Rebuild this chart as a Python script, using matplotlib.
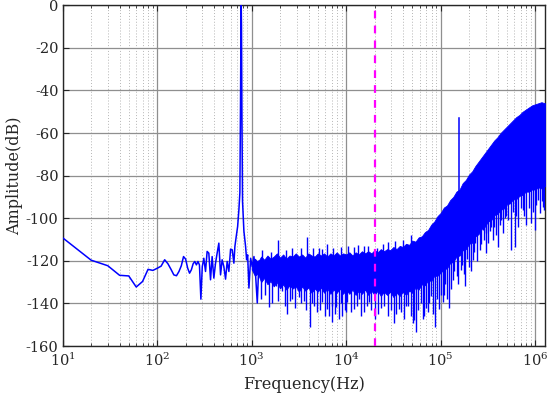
import numpy as np
import matplotlib
matplotlib.use("Agg")
import matplotlib.pyplot as plt
from matplotlib.ticker import LogLocator, LogFormatterMathtext, NullFormatter

# ---------------- data ----------------
# sparse low-frequency part of the spectrum incl. the signal tone
line_freq = [10, 20, 30, 40, 50, 60, 70, 80, 90, 100, 110, 120, 130, 140, 150, 160,
             170, 180, 190, 200, 210, 220, 230, 240, 250, 260, 270, 280, 290, 300,
             311.5, 324.7, 337.6, 351.9, 366.8, 381.4, 397.6, 414.4, 430.9, 449.2,
             468.2, 486.9, 507.5, 529, 550.2, 573.5, 598, 622, 648, 664, 686, 710,
             732, 750, 762, 770, 775, 780, 788, 800, 827, 862, 884, 906, 935, 975,
             1014, 1057, 1102, 1146, 1194, 1245]
line_db = [-109.2, -119.7, -122.3, -126.8, -127.1, -132.3, -129.7, -124, -124.5, -123.5,
           -122.5, -119.5, -121.4, -124, -126.6, -127, -125, -122.3, -118, -119.2,
           -123.4, -125.8, -124.2, -121.4, -120.3, -121.9, -120.3, -121.9, -138, -122.7,
           -118.8, -125, -115.6, -116.4, -128.9, -118, -128.1, -121.1, -116.4, -111.7,
           -126.6, -119.5, -122.7, -128.6, -120.3, -125, -114.5, -114.8, -121.1, -113.3,
           -108.6, -103.9, -96.1, -88, -45, -10, 0, -10, -50, -92, -106, -113.3,
           -119.5, -117.2, -132.8, -118.8, -122.7, -118, -127.3, -139.8, -120, -128]

# dense noise band: sampled positions, upper edge and lower edge of the solid core
band_freq = [1000, 1080, 1166, 1259, 1359, 1468, 1585, 1711, 1848, 1995,
             2154, 2326, 2512, 2712, 2929, 3162, 3415, 3687, 3981, 4299,
             4642, 5012, 5412, 5843, 6310, 6813, 7356, 7943, 8577, 9261,
             10000, 10800, 11660, 12590, 13590, 14680, 15850, 17110, 18480, 19950,
             21540, 23260, 25120, 27120, 29290, 31620, 34150, 36870, 39810, 42990,
             46420, 50120, 54120, 58430, 63100, 68130, 73560, 79430, 85770, 92610,
             100000, 108000, 116600, 125900, 135900, 146800, 158500, 171100, 184800, 199500,
             215400, 232600, 251200, 271200, 292900, 316200, 341500, 368700, 398100, 429900,
             464200, 501200, 541200, 584300, 631000, 681300, 735600, 794300, 857700, 926100,
             1000000, 1080000, 1166000, 1259000, 1280000]
band_top = [-121, -119, -120.5, -118, -119.5, -117.5, -119, -118, -116.5, -118.5,
            -117, -119, -117.5, -118, -116.5, -118, -117, -118.5, -116.5, -117.5,
            -118, -116.5, -117.5, -116.5, -118, -116.5, -117.5, -116, -117.5, -116.5,
            -117, -116, -117.5, -116, -117, -115.5, -116.5, -115.5, -116.5, -115,
            -116, -114.5, -115.5, -114.5, -115, -113.5, -114.5, -113, -113.5, -112,
            -112.5, -110.5, -111, -109, -108.5, -106.5, -105.5, -103, -101.5, -99,
            -97.5, -95, -94, -91.5, -90, -87.5, -86.5, -83.5, -82, -79.5,
            -78, -75.5, -73.5, -71.5, -69.5, -67.5, -65.5, -63.5, -62, -60,
            -58.5, -57, -55.5, -54, -52.5, -51.5, -50, -49, -48, -47,
            -46.5, -46, -45.5, -46, -46]
band_bot = [-124, -127, -126, -130, -128, -131, -129.5, -132, -130, -133,
            -131, -133.5, -131.5, -133, -132, -134.5, -132, -134, -132.5, -135,
            -133, -134.5, -132.5, -135, -133, -135.5, -133.5, -135, -133, -135.5,
            -133.5, -135.5, -133.5, -136, -134, -135.5, -133.5, -136, -134, -136,
            -134, -136.5, -134.5, -136, -134.5, -137, -135, -136.5, -134.5, -136,
            -134, -135, -132.5, -133.5, -131, -131.5, -129, -129.5, -127, -127,
            -125.5, -124, -123.5, -121, -120.5, -118, -117.5, -115, -114.5, -112,
            -111.5, -108.5, -107.5, -105, -104, -101.5, -101, -98.5, -98, -96,
            -95.5, -93.5, -93, -91, -91, -89.5, -89, -87.5, -87.5, -86.5,
            -86.5, -85.5, -86, -85, -85]

# downward noise spikes below the band
spike_freq = [1245, 1390, 1524, 1650, 1795, 1900, 2109, 2250, 2384, 2550, 2692, 2850,
              3171, 3350, 3581, 3800, 4150, 4350, 4571, 4956, 5300, 5605, 5900, 6339,
              6600, 7000, 7157, 7600, 7893, 8426, 8800, 9141, 9600, 10070, 10322,
              11200, 12160, 12900, 13733, 14500, 15520, 16500, 17535, 18500, 20160,
              21500, 23340, 25000, 27420, 29500, 32280, 34000, 36500, 38040, 41210,
              42960, 45000, 48550, 51000, 52670, 54900, 58000, 62020, 64530, 67000,
              70060, 72930, 76000, 79170, 82000, 87340, 91000, 96970, 100000, 105100,
              109600, 112000, 118000, 123800, 128000, 134300, 140000, 148000, 152000,
              164800, 170000, 176000, 183100, 192000, 201800, 208000, 218800, 226000,
              233600, 245000, 262100, 270000, 279300, 290000, 298400, 305000, 315600,
              330000, 343100, 356600, 370000, 385000, 403000, 420000, 437700, 455000,
              475000, 494600, 520000, 558500, 580000, 606000, 630000, 656900, 700000,
              742300, 770000, 805400, 860000, 911200, 950000, 987900, 1030000,
              1071000, 1116000, 1180000, 1211000, 1250000]
spike_db = [-138, -136, -141.9, -140, -131.7, -139, -134, -141, -145, -139, -138, -142,
            -137.2, -140, -138.8, -143, -151.3, -140, -141, -144.2, -143, -139.5, -146,
            -142.7, -145.8, -141, -148.9, -145, -141.9, -147.3, -140, -145.8, -143,
            -144.2, -139.5, -144, -142.7, -141, -138, -146, -144.2, -141, -139.5, -143,
            -147.3, -145, -142, -141, -145.8, -143, -149, -145, -142.7, -143.8, -147.3,
            -141.4, -141, -145.8, -149, -147.7, -153.6, -143, -139.8, -147.3, -146,
            -142.2, -144.2, -140, -136.7, -145, -151.3, -138, -142.7, -136, -139.5,
            -135.9, -131, -138, -142.2, -133, -128.9, -125, -127.3, -131,
            -124.2, -122, -126, -132, -119, -122.7, -125, -119.5, -116,
            -111.6, -120, -114.8, -112, -105.3, -110, -116.4, -107, -111.7,
            -106, -104, -110, -104, -108, -113.3, -103, -101, -107,
            -100, -99, -101, -114.7, -97, -113.3, -99, -104, -95,
            -96, -99, -103.2, -95, -102.2, -97, -105.3, -94,
            -91.3, -97.7, -92, -94.6, -96]

# upward spikes on top of the band
up_freq = [1300, 1600, 1899, 2300, 2654, 3300, 3886, 4500, 5170, 5600, 6339, 7300,
           8900, 10500, 12000, 13500, 15520, 17000, 21330, 24500, 28000, 33000, 40000,
           48000]
up_db = [-115, -116, -110, -115, -114, -114, -109, -114, -114, -114.5, -112, -114,
         -113.5, -113, -113.5, -112.5, -113, -113, -114, -112, -111, -110.5, -110,
         -108]

# isolated spur
spur_freq = 158000
spur_db = -53

# signal band edge
band_edge = 20000

x_ticks = [1e1, 1e2, 1e3, 1e4, 1e5, 1e6]
y_ticks = [0, -20, -40, -60, -80, -100, -120, -140, -160]

# ---------------- plot ----------------
plt.rcParams["font.family"] = ["DejaVu Serif"]
plt.rcParams["mathtext.fontset"] = "dejavuserif"
plt.rcParams["axes.unicode_minus"] = False

BLUE = "#0000ff"
fig = plt.figure(figsize=(5.5, 3.98), dpi=100)
ax = fig.add_axes([62.7 / 550, 1 - 346 / 398, 482.6 / 550, 340.7 / 398])
ax.set_xscale("log")
ax.set_xlim(10, 1.28e6)
ax.set_ylim(-160, 0)

lb = np.log10(band_freq)
ax.fill_between(band_freq, band_bot, band_top, color=BLUE, lw=0.6, zorder=3)
sp_top = np.interp(np.log10(spike_freq), lb, band_bot) + 1.0
ax.vlines(spike_freq, spike_db, sp_top, color=BLUE, lw=1.0, zorder=3)
up_base = np.interp(np.log10(up_freq), lb, band_top) - 1.0
ax.vlines(up_freq, up_base, up_db, color=BLUE, lw=1.0, zorder=3)
ax.plot([spur_freq, spur_freq], [np.interp(np.log10(spur_freq), lb, band_top) - 2, spur_db],
        color=BLUE, lw=1.1, zorder=3)
ax.plot(line_freq, line_db, color=BLUE, lw=1.1, zorder=3)
ax.axvline(band_edge, color="#ff00ff", lw=1.6, ls=(0, (3.5, 3.2)), zorder=5)

ax.set_xticks(x_ticks)
ax.xaxis.set_major_formatter(LogFormatterMathtext())
ax.xaxis.set_minor_locator(LogLocator(base=10, subs=np.arange(2, 10), numticks=20))
ax.xaxis.set_minor_formatter(NullFormatter())
ax.set_yticks(y_ticks)
ax.set_yticklabels([str(v) for v in y_ticks])

ax.grid(True, which="major", color="#8f8f8f", lw=0.9, ls="-", zorder=0)
ax.grid(True, which="minor", axis="x", color="#b5b5b5", lw=0.7, ls=(0, (1, 2)), zorder=0)
ax.set_axisbelow(True)

ax.tick_params(which="both", direction="in", labelsize=10.5, colors="#262626",
               labelcolor="#262626", top=True, right=True)
ax.tick_params(which="major", length=4)
ax.tick_params(which="minor", length=2)
ax.tick_params(axis="y", pad=3)
ax.tick_params(axis="x", pad=4)
for s in ax.spines.values():
    s.set_color("#262626")
    s.set_linewidth(1.0)

ax.set_xlabel("Frequency(Hz)", fontsize=11.5, color="#262626", labelpad=5)
ax.set_ylabel("Amplitude(dB)", fontsize=11.5, color="#262626", labelpad=2)

fig.savefig("out.png", dpi=100)
